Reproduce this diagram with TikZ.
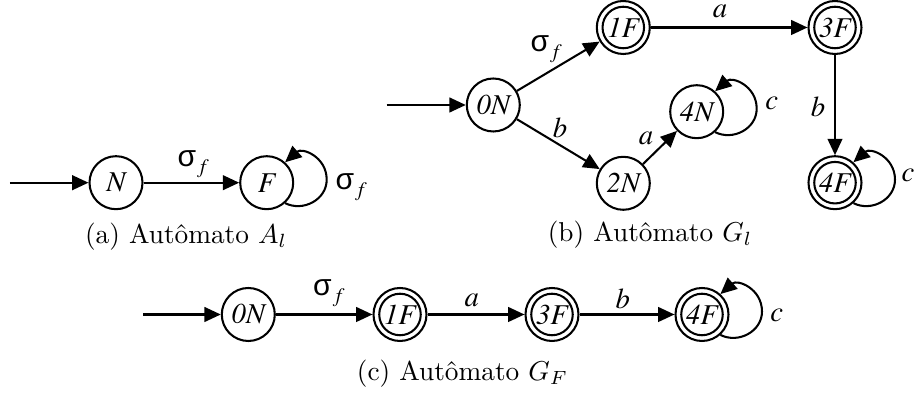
\documentclass[tikz,border=0pt]{standalone}
\usepackage{fontspec}
\newfontfamily\tnrfont{texgyretermes}[Extension=.otf,UprightFont=*-regular,ItalicFont=*-italic,BoldFont=*-bold,BoldItalicFont=*-bolditalic]
\newfontfamily\arialfont{Liberation Sans}
\usetikzlibrary{arrows.meta}
\newcommand\sigf{{\arialfont\fontsize{11}{12}\selectfont σ}\kern1.5pt\raisebox{-2.5pt}{\tnrfont\itshape\fontsize{7.5}{8}\selectfont f}}
\begin{document}
\begin{tikzpicture}[x=0.366pt,y=-0.366pt,
  st/.style={circle,draw,line width=0.75pt,minimum size=19.4pt,inner sep=0pt,font=\tnrfont\itshape\fontsize{10.5}{12}\selectfont},
  acc/.style={st,path picture={\draw[line width=0.75pt] (path picture bounding box.center) circle (7.6pt);}},
  arr/.style={line width=0.75pt,-{Triangle[length=6pt,width=5.4pt]}},
  lab/.style={inner sep=0pt,font=\tnrfont\itshape\fontsize{10.5}{12}\selectfont},
  slab/.style={inner sep=0pt,anchor=base west},
  captext/.style={inner sep=0pt,font=\normalsize}]
\useasboundingbox (0,0) rectangle (915,394);
% self loop: two cubic pieces round a circle to the right of the node
\newcommand\selfloop[1]{\draw[arr] (#1.-48) .. controls +(18,9) and +(0,20) .. ([shift={(60,-3)}]#1.center) .. controls +(0,-23) and +(17,-15) .. (#1.48);}
% ---------- (a)
\node[st] (aN) at (116,182.7) {N};
\node[st] (aF) at (266.7,182.7) {F};
\coordinate (aI) at (10,182.7);
\draw[arr] (aI) -- (aN);
\draw[arr] (aN) -- (aF);
\selfloop{aF}
\node[slab] (la1) at (177,166.7) {\sigf};
\node[slab] (la2) at (335,190) {\sigf};
\node[captext] (capa) at (186,236.7) {(a) Autômato $A_l$};
% ---------- (b)
\node[st] (b0N) at (493.3,105) {0N};
\node[acc] (b1F) at (623.3,27.5) {1F};
\node[acc] (b3F) at (835,27.5) {3F};
\node[st] (b4N) at (696.7,111.7) {4N};
\node[st] (b2N) at (623.3,183.3) {2N};
\node[acc] (b4F) at (835,182.7) {4F};
\coordinate (bI) at (386.7,105);
\draw[arr] (bI) -- (b0N);
\draw[arr] (b0N) -- (b1F);
\draw[arr] (b0N) -- (b2N);
\draw[arr] (b1F) -- (b3F);
\draw[arr] (b2N) -- (b4N);
\draw[arr] (b3F) -- (b4F);
\selfloop{b4N}
\selfloop{b4F}
\node[slab] (lb1) at (530,51.7) {\sigf};
\node[lab] (lb2) at (560,128) {b};
\node[lab] (lb3) at (646,138) {a};
\node[lab] (lb4) at (771.7,103.3) {c};
\node[lab] (lb5) at (720,11) {a};
\node[lab] (lb6) at (818,106.7) {b};
\node[lab] (lb7) at (908,175) {c};
\node[captext] (capb) at (650,235) {(b) Autômato $G_l$};
% ---------- (c)
\node[st] (c0N) at (248.3,314.5) {0N};
\node[acc] (c1F) at (400,314.5) {1F};
\node[acc] (c3F) at (552,314.5) {3F};
\node[acc] (c4F) at (702,314.5) {4F};
\coordinate (cI) at (143,314.5);
\draw[arr] (cI) -- (c0N);
\draw[arr] (c0N) -- (c1F);
\draw[arr] (c1F) -- (c3F);
\draw[arr] (c3F) -- (c4F);
\selfloop{c4F}
\node[slab] (lc1) at (312.7,296) {\sigf};
\node[lab] (lc2) at (471.7,300) {a};
\node[lab] (lc3) at (622.7,299.3) {b};
\node[lab] (lc4) at (776.7,315) {c};
\node[captext] (capc) at (462.5,373.3) {(c) Autômato $G_F$};
\end{tikzpicture}
\end{document}
